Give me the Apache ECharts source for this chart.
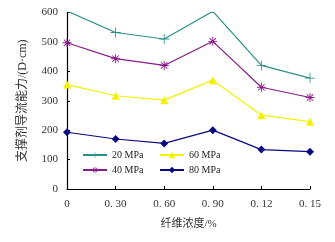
<!DOCTYPE html>
<html><head><meta charset="utf-8">
<script src="https://cdn.jsdelivr.net/npm/echarts@6/dist/echarts.min.js"></script>
<style>html,body{margin:0;padding:0;background:#fff}#c{width:335px;height:242px}</style>
</head><body><div id="c"></div>
<script>
var categories = ['0', '0. 30', '0. 60', '0. 90', '0. 12', '0. 15'];
var s20 = [605, 532, 510, 604, 420, 377];
var s40 = [497, 443, 420, 502, 346, 311];
var s60 = [355, 317, 302, 370, 251, 229];
var s80 = [193, 170, 155, 200, 134, 127];
var yTicks = [0, 100, 200, 300, 400, 500, 600];

var serif = 'Liberation Serif, Times New Roman, serif';
var mixed = 'Liberation Serif, Noto Sans CJK SC, serif';
var plus = 'path://M4.6,0h0.8v4.6h4.6v0.8h-4.6v4.6h-0.8v-4.6h-4.6v-0.8h4.6z';
var star = 'path://M4.5,0h1v3.8l2.7,-2.7l0.7,0.7l-2.7,2.7h3.8v1h-3.8l2.7,2.7l-0.7,0.7l-2.7,-2.7v3.8h-1v-3.8l-2.7,2.7l-0.7,-0.7l2.7,-2.7h-3.8v-1h3.8l-2.7,-2.7l0.7,-0.7l2.7,2.7z';

function mk(name, data, color, symbol, size) {
  return {
    name: name, type: 'line', data: data, symbol: symbol, symbolSize: size,
    lineStyle: {color: color, width: 1.2}, itemStyle: {color: color},
    emphasis: {disabled: true}
  };
}
function lg(names, left) {
  return {
    data: names, left: left, top: 150, orient: 'vertical',
    itemWidth: 24, itemHeight: 8, itemGap: 5, padding: 0,
    textStyle: {fontFamily: serif, fontSize: 10, color: '#222'}
  };
}

var chart = echarts.init(document.getElementById('c'));
chart.setOption({
  animation: false,
  grid: {left: 67, right: 25, top: 12.5, bottom: 53},
  legend: [lg(['20 MPa', '40 MPa'], 82), lg(['60 MPa', '80 MPa'], 159)],
  xAxis: {
    type: 'category', data: categories, boundaryGap: false,
    axisLine: {lineStyle: {color: '#000', width: 1.2}},
    axisTick: {inside: true, length: 3, lineStyle: {color: '#000'}},
    axisLabel: {fontFamily: serif, fontSize: 11, color: '#333', margin: 10},
    name: '纤维浓度/%', nameLocation: 'middle', nameGap: 30,
    nameTextStyle: {fontFamily: mixed, fontSize: 11, color: '#333'}
  },
  yAxis: {
    type: 'value', min: yTicks[0], max: yTicks[yTicks.length - 1], interval: 100,
    axisLine: {show: true, lineStyle: {color: '#000', width: 1.2}},
    axisTick: {show: true, inside: true, length: 3, lineStyle: {color: '#000'}},
    splitLine: {show: false},
    axisLabel: {fontFamily: serif, fontSize: 11, color: '#333', margin: 9},
    name: '支撑剂导流能力/(D·cm)', nameLocation: 'middle', nameGap: 38, nameRotate: 90,
    nameTextStyle: {fontFamily: mixed, fontSize: 12, color: '#333'}
  },
  series: [
    mk('20 MPa', s20, '#2a9088', plus, 10),
    mk('40 MPa', s40, '#8a1a8a', star, 9),
    mk('60 MPa', s60, '#f2f200', 'triangle', 8),
    mk('80 MPa', s80, '#0a0a80', 'diamond', 8)
  ]
});
</script></body></html>
